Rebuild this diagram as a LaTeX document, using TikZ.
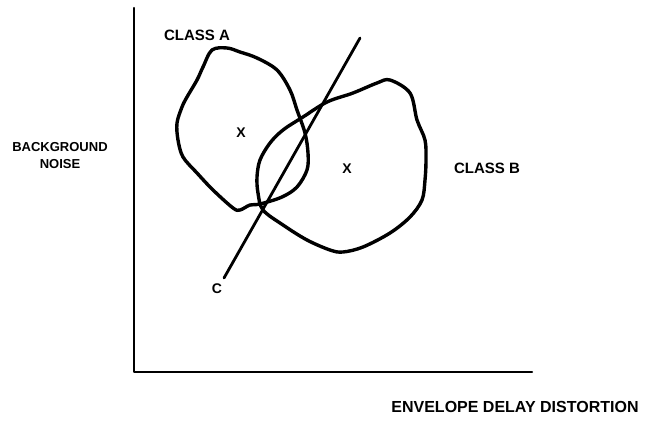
\documentclass[tikz,border=0pt]{standalone}
\usepackage{fontspec}
\setmainfont{Liberation Sans}
\usepackage{tikz}
\usetikzlibrary{positioning}

\begin{document}
\begin{tikzpicture}[x=1pt, y=-1pt, line join=round, line cap=round,
    lbl/.style={font=\bfseries\fontsize{15}{17}\selectfont, inner sep=0pt},
    xmark/.style={font=\bfseries\fontsize{14}{16}\selectfont, inner sep=0pt},
    blob/.style={line width=3.4pt}]
    \useasboundingbox (0,0) rectangle (650,420);

    % axes
    \draw[line width=2.2pt] (134,8) -- (134,372) -- (532,372);

    % class regions
    \draw[blob] plot[smooth cycle, tension=0.55] coordinates {
        (227,48) (240,52) (257,58) (277,70) (290,90) (297,110) (305,133)
        (308,153) (307,170) (297,187) (282,197) (260,204) (250,205)
        (240,210) (233,208) (213,190) (197,173) (183,157) (178,140)
        (177,123) (182,107) (187,97) (197,80) (203,67) (212,50)};
    \draw[blob] plot[smooth cycle, tension=0.55] coordinates {
        (263,210) (283,225) (307,240) (330,250) (343,252) (363,247)
        (390,233) (410,217) (422,200) (425,180) (426,160) (425,140)
        (417,120) (410,93) (390,80) (377,83) (353,93) (327,102)
        (303,117) (283,130) (270,143) (260,160) (257,177) (258,193)};

    % boundary C
    \coordinate (ctop) at (360,38);
    \node[xmark] (clbl) at (217,289) {C};
    \coordinate (cbot) at (224,278);
    \draw[line width=2.8pt] (cbot) -- (ctop);

    \node[xmark] (xa) at (241,133) {X};
    \node[xmark] (xb) at (347,169) {X};

    \node[lbl] (classa) at (197,35) {CLASS A};
    \node[lbl] (classb) at (487,168) {CLASS B};
    \node[lbl, align=center, font=\bfseries\fontsize{13}{17}\selectfont] (ylbl) at (60,156) {BACKGROUND\\NOISE};
    \node[lbl, font=\bfseries\fontsize{16}{18}\selectfont] (xlbl) at (515,407) {ENVELOPE DELAY DISTORTION};
\end{tikzpicture}
\end{document}
